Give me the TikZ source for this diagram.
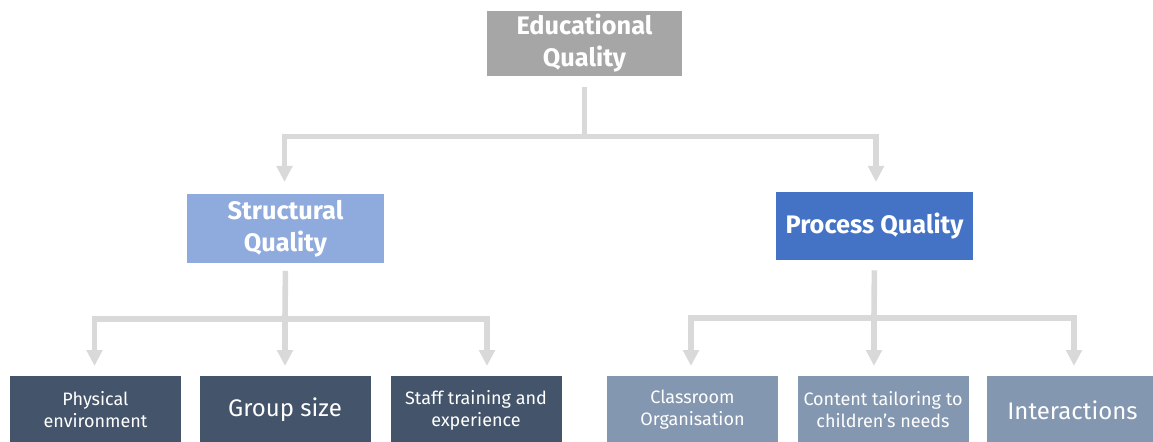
\documentclass[tikz,border=0pt]{standalone}
\usepackage{fontspec}
\setmainfont{Fira Sans}
\usetikzlibrary{arrows.meta}
\definecolor{wiregray}{HTML}{D9D9D9}
\definecolor{topgray}{HTML}{A6A6A6}
\definecolor{structblue}{HTML}{8FAADC}
\definecolor{procblue}{HTML}{4472C4}
\definecolor{slate}{HTML}{44546A}
\definecolor{steel}{HTML}{8497B0}
\begin{document}
\begin{tikzpicture}[x=0.75pt,y=-0.75pt,
  headbox/.style={fill=#1, text=white, inner sep=0pt, align=center,
    minimum width=147.75pt, minimum height=51pt,
    font=\fontsize{19}{24}\selectfont\bfseries},
  leafbox/.style={fill=#1, text=white, inner sep=0pt, align=center,
    minimum width=128.25pt, minimum height=51pt,
    font=\fontsize{13.5}{16.5}\selectfont},
  bigleaf/.style={font=\fontsize{18}{21}\selectfont},
  wire/.style={draw=wiregray, line width=4.2pt},
  feed/.style={wire, -{Triangle[width=11.5pt,length=12pt]}}]
\useasboundingbox (0,0) rectangle (1153,442);
\clip (0,0) rectangle (1153,442);

% top level
\node[headbox=topgray, minimum width=146.25pt, minimum height=48.75pt] (edu) at (584.5,43.5) {Educational\\Quality};

% second level
\node[headbox=structblue] (struct) at (285.5,228.5) {Structural\\Quality};
\node[headbox=procblue] (proc) at (874.5,226) {Process Quality};

% leaves (bottom edge runs past the frame)
\node[leafbox=slate] (phys) at (95.5,410) {Physical\\environment};
\node[leafbox=slate, bigleaf] (group) at (285,410) {Group size};
\node[leafbox=slate] (staff) at (476,410) {Staff training and\\experience};
\node[leafbox=steel] (class) at (692.5,410) {Classroom\\Organisation};
\node[leafbox=steel] (content) at (883,410) {Content tailoring to\\children’s needs};
\node[leafbox=steel, bigleaf] (inter) at (1072.5,410) {Interactions};

% bus points and arrow tips
\coordinate (eduJ) at (584.5,136.5);
\coordinate (structTip) at (284.5,182);
\coordinate (procTip) at (876,182);
\coordinate (sJ) at (285,319);
\coordinate (physTip) at (94.5,366);
\coordinate (groupTip) at (285,366);
\coordinate (staffTip) at (487,366);
\coordinate (pJ) at (874,318);
\coordinate (classTip) at (691,366);
\coordinate (contentTip) at (874,366);
\coordinate (interTip) at (1074,366);

% connectors
\draw[wire, shorten <=8.25pt] (edu.south) -- (eduJ);
\draw[feed] (eduJ) -| (structTip);
\draw[feed] (eduJ) -| (procTip);

\draw[wire, shorten <=6pt] (struct.south) -- (sJ);
\draw[feed] (sJ) -| (physTip);
\draw[feed] (sJ) -- (groupTip);
\draw[feed] (sJ) -| (staffTip);

\draw[wire, shorten <=7.5pt] (proc.south) -- (pJ);
\draw[feed] (pJ) -| (classTip);
\draw[feed] (pJ) -- (contentTip);
\draw[feed] (pJ) -| (interTip);
\end{tikzpicture}
\end{document}
